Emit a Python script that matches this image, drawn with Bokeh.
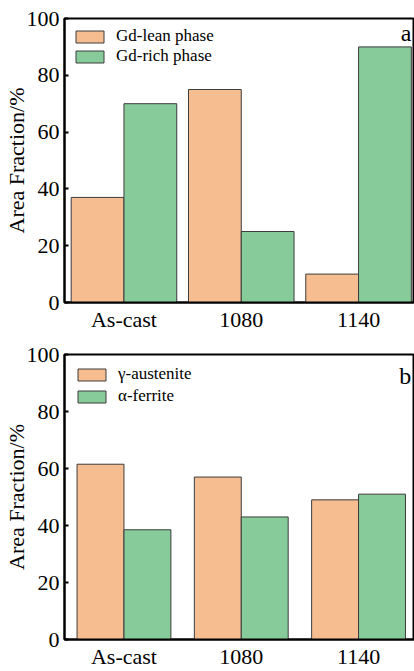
from bokeh.plotting import figure
from bokeh.layouts import column
from bokeh.models import ColumnDataSource, FixedTicker, Range1d, Legend, LegendItem, Label
from bokeh.transform import dodge
from bokeh.embed import file_html
from bokeh.resources import INLINE

categories = ["As-cast", "1080", "1140"]
gd_lean = [37, 75, 10]
gd_rich = [70, 25, 90]
austenite = [61.5, 57, 49]
ferrite = [38.5, 43, 51]
y_ticks = [0, 20, 40, 60, 80, 100]

ORANGE = "#F6BD91"
GREEN = "#87CB9A"
EDGE = "#3c3c3c"
FONT = "Liberation Serif"
FONT_Q = "'Liberation Serif', serif"


def make_panel(s1, s2, n1, n2, tag, height, top, bottom, bw, spacing, lmargin, tag_y):
    xs = list(range(len(categories)))
    src = ColumnDataSource(dict(x=xs, a=s1, b=s2))
    p = figure(width=414, height=height, output_backend="svg", toolbar_location=None,
               x_range=Range1d(-0.507, 2.477), y_range=Range1d(0, 100),
               min_border_left=64, min_border_right=0, min_border_top=top,
               min_border_bottom=bottom)
    r1 = p.vbar(x=dodge("x", -bw / 2, range=p.x_range), top="a", width=bw, source=src,
                fill_color=ORANGE, line_color=EDGE, line_width=1)
    r2 = p.vbar(x=dodge("x", bw / 2, range=p.x_range), top="b", width=bw, source=src,
                fill_color=GREEN, line_color=EDGE, line_width=1)
    p.xgrid.visible = False
    p.ygrid.visible = False
    p.outline_line_color = "black"
    p.outline_line_width = 2
    p.background_fill_color = "white"
    p.border_fill_color = "white"

    p.xaxis.ticker = FixedTicker(ticks=xs)
    p.xaxis.major_label_overrides = {i: c for i, c in enumerate(categories)}
    p.xaxis.major_tick_in = 0
    p.xaxis.major_tick_out = 0
    p.xaxis.minor_tick_in = 0
    p.xaxis.minor_tick_out = 0
    p.xaxis.major_label_standoff = 4

    p.yaxis.ticker = FixedTicker(ticks=y_ticks)
    p.yaxis.major_tick_in = 4
    p.yaxis.major_tick_out = 0
    p.yaxis.minor_tick_in = 0
    p.yaxis.minor_tick_out = 0
    p.yaxis.major_label_standoff = 5
    p.yaxis.axis_label = "Area Fraction/%"
    p.yaxis.axis_label_standoff = -5

    for ax in (p.xaxis[0], p.yaxis[0]):
        ax.axis_line_width = 2
        ax.axis_line_color = "black"
        ax.major_tick_line_width = 2
        ax.major_label_text_font = FONT
        ax.major_label_text_font_size = "22px"
        ax.major_label_text_color = "black"
        ax.axis_label_text_font = FONT
        ax.axis_label_text_font_size = "22px"
        ax.axis_label_text_font_style = "normal"
        ax.axis_label_text_color = "black"

    legend = Legend(items=[LegendItem(label=n1, renderers=[r1]),
                           LegendItem(label=n2, renderers=[r2])],
                    location="top_left", margin=lmargin, padding=8,
                    glyph_width=35, glyph_height=15, label_height=15,
                    spacing=spacing, label_standoff=9,
                    label_text_font=FONT_Q, label_text_font_size="17px",
                    label_text_color="black",
                    border_line_alpha=0, background_fill_alpha=0)
    p.add_layout(legend)
    p.add_layout(Label(x=2.45, y=tag_y, text=tag, text_align="right",
                       text_baseline="alphabetic", text_font=FONT_Q,
                       text_font_size="24px", text_color="black"))
    return p


pa = make_panel(gd_lean, gd_rich, "Gd-lean phase", "Gd-rich phase", "a",
                340, 18, 38, 0.45, 0, 0, 94.8)
pb = make_panel(austenite, ferrite, "γ-austenite", "α-ferrite", "b",
                331, 14, 31, 0.40, 2, 2, 92.5)

layout = column(pa, pb, spacing=0)
open("out.html", "w").write(file_html(layout, INLINE))
